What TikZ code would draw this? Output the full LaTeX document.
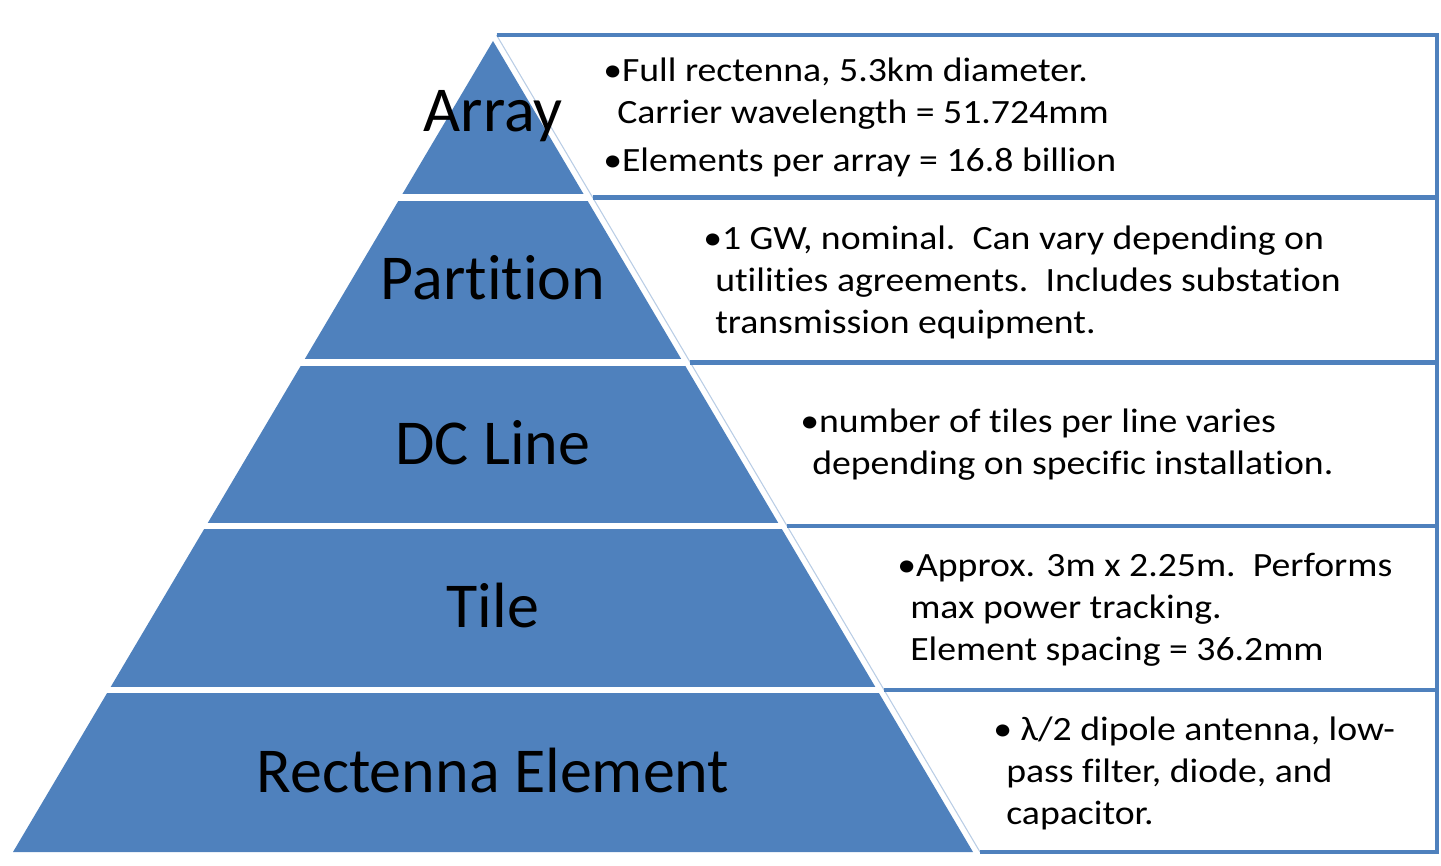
\documentclass[tikz,border=0pt]{standalone}
\usepackage{fontspec}
\setmainfont{Carlito}[Ligatures=NoCommon]
\newfontfamily\bodyfont[FakeStretch=1.11,Ligatures=NoCommon]{Carlito}
\definecolor{pblue}{HTML}{4F81BD}
\definecolor{lblue}{HTML}{B9CDE5}
\begin{document}
\begin{tikzpicture}[x=0.75pt,y=-0.75pt,
  level/.style={font=\fontsize{48pt}{58pt}\selectfont, anchor=base, inner sep=0pt, text=black},
  info/.style={font=\bodyfont\fontsize{25.5pt}{31.5pt}\selectfont, anchor=west, align=left, inner sep=0pt, text=black},
  border/.style={draw=pblue, line width=3.5pt},
  gap/.style={draw=white, line width=4.9pt},
  slant/.style={draw=lblue, line width=0.8pt}]
\useasboundingbox (0,0) rectangle (1441,866);
% pyramid
\coordinate (apex) at (493,41);
\coordinate (bl) at (13,852);
\coordinate (br) at (973,852);
\fill[pblue] (apex) -- (br) -- (bl) -- cycle;
% slanted edge of the boxes and box corners
\coordinate (s0) at (496.5,35);
\coordinate (s1) at (592.7,197.5);
\coordinate (s2) at (690.3,362.5);
\coordinate (s3) at (787.0,526);
\coordinate (s4) at (884.1,690);
\coordinate (s5) at (980.0,852);
\coordinate (r0) at (1437,35);
\coordinate (r1) at (1437,197.5);
\coordinate (r2) at (1437,362.5);
\coordinate (r3) at (1437,526);
\coordinate (r4) at (1437,690);
\coordinate (r5) at (1437,852);
\coordinate (g1) at (0,197.5);
\coordinate (g2) at (0,362.5);
\coordinate (g3) at (0,526);
\coordinate (g4) at (0,690);
% white gaps between levels
\draw[gap] (g1) -- (s1);
\draw[gap] (g2) -- (s2);
\draw[gap] (g3) -- (s3);
\draw[gap] (g4) -- (s4);
% slanted thin line
\draw[slant] (s0) -- (s5);
% box borders
\draw[border] (s0) -- (r0) -- (r5) -- (s5);
\draw[border] (s1) -- (r1);
\draw[border] (s2) -- (r2);
\draw[border] (s3) -- (r3);
\draw[border] (s4) -- (r4);
% level titles
\node[level] (l1) at (493,132) {Array};
\node[level] (l2) at (493,299) {Partition};
\node[level] (l3) at (493,464) {DC Line};
\node[level] (l4) at (493,627) {Tile};
\node[level] (l5) at (493,792) {Rectenna Element};
% descriptions
\node[info] (t1) at (603,117) {•Full rectenna, 5.3km diameter.\\\hspace*{10.5pt}Carrier wavelength = 51.724mm\\[4.5pt]•Elements per array = 16.8 billion};
\node[info] (t2) at (703,282) {•1 GW, nominal.\ \ Can vary depending on\\\hspace*{9pt}utilities agreements.\ \ Includes substation\\\hspace*{9pt}transmission equipment.};
\node[info] (t3) at (800,445) {•number of tiles per line varies\\\hspace*{9pt}depending on specific installation.};
\node[info] (t4) at (897,610) {•Approx. 3m x 2.25m.\ \ Performs\\\hspace*{9.75pt}max power tracking.\\\hspace*{9.75pt}Element spacing = 36.2mm};
\node[info] (t5) at (993,773.5) {• λ/2 dipole antenna, low-\\\hspace*{9.75pt}pass filter, diode, and\\\hspace*{9.75pt}capacitor.};
\end{tikzpicture}
\end{document}
